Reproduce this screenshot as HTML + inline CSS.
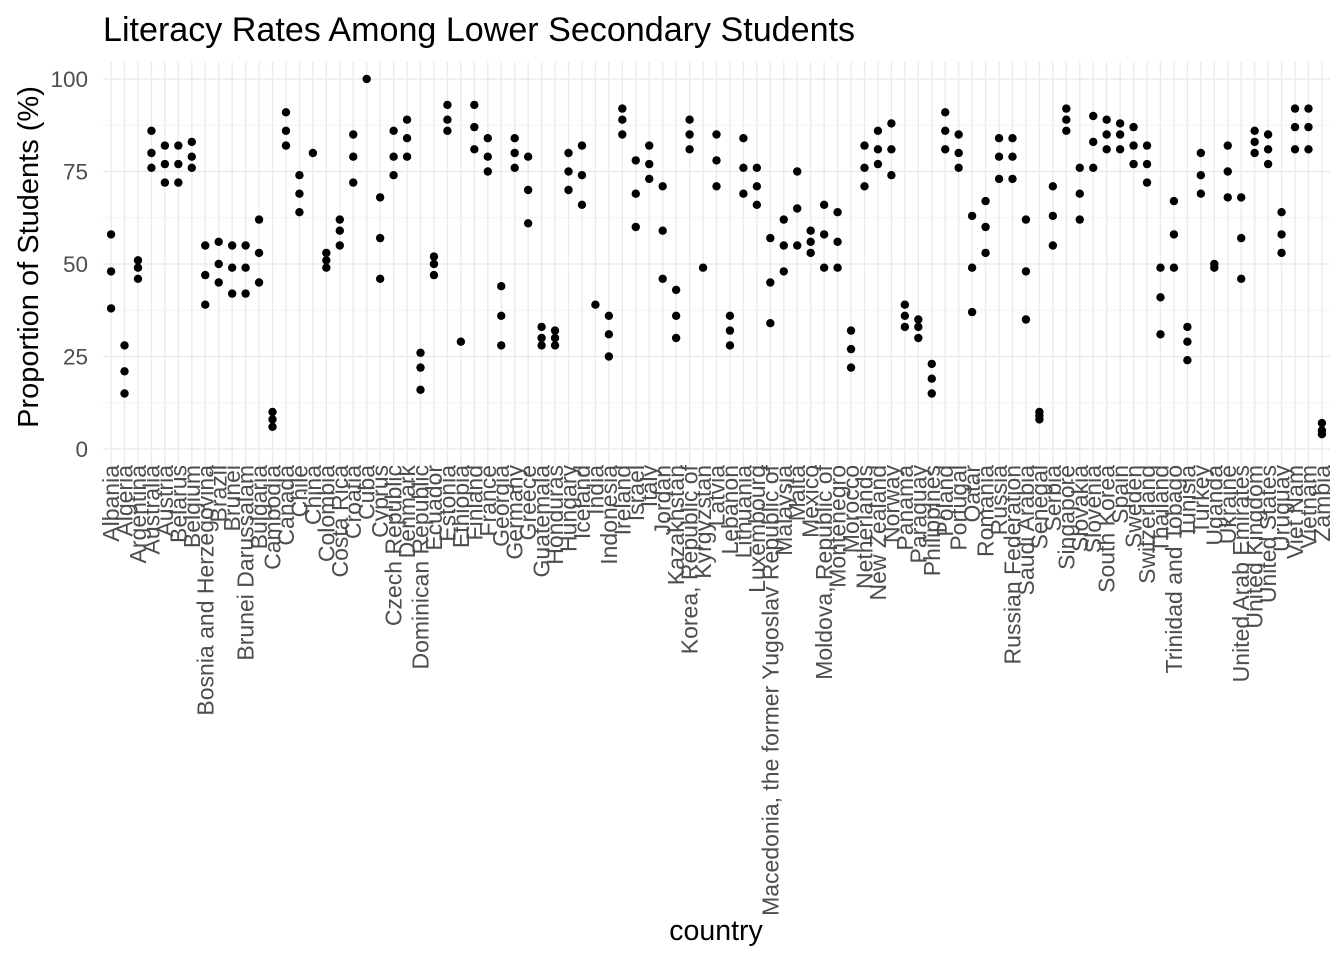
<!DOCTYPE html>
<html><head><meta charset="utf-8"><style>
body{margin:0;background:#fff;}
svg{display:block;font-family:"Liberation Sans",Arial,sans-serif;}
</style></head><body>
<svg id="chart" width="1344" height="960"></svg>
<script>
const countries=["Albania","Algeria","Argentina","Australia","Austria","Belarus","Belgium","Bosnia and Herzegovina","Brazil","Brunei","Brunei Darussalam","Bulgaria","Cambodia","Canada","Chile","China","Colombia","Costa Rica","Croatia","Cuba","Cyprus","Czech Republic","Denmark","Dominican Republic","Ecuador","Estonia","Ethiopia","Finland","France","Georgia","Germany","Greece","Guatemala","Honduras","Hungary","Iceland","India","Indonesia","Ireland","Israel","Italy","Jordan","Kazakhstan","Korea, Republic of","Kyrgyzstan","Latvia","Lebanon","Lithuania","Luxembourg","Macedonia, the former Yugoslav Republic of","Malaysia","Malta","Mexico","Moldova, Republic of","Montenegro","Morocco","Netherlands","New Zealand","Norway","Panama","Paraguay","Philippines","Poland","Portugal","Qatar","Romania","Russia","Russian Federation","Saudi Arabia","Senegal","Serbia","Singapore","Slovakia","Slovenia","South Korea","Spain","Sweden","Switzerland","Thailand","Trinidad and Tobago","Tunisia","Turkey","Uganda","Ukraine","United Arab Emirates","United Kingdom","United States","Uruguay","Viet Nam","Vietnam","Zambia"];
const values=[[58,48,38],[28,21,15],[51,49,46],[86,80,76],[82,77,72],[82,77,72],[83,79,76],[55,47,39],[56,50,45],[55,49,42],[55,49,42],[62,53,45],[10,8,6],[91,86,82],[74,69,64],[80],[53,51,49],[62,59,55],[85,79,72],[100],[68,57,46],[86,79,74],[89,84,79],[26,22,16],[52,50,47],[93,89,86],[29],[93,87,81],[84,79,75],[44,36,28],[84,80,76],[79,70,61],[33,30,28],[32,30,28],[80,75,70],[82,74,66],[39],[36,31,25],[92,89,85],[78,69,60],[82,77,73],[71,59,46],[43,36,30],[89,85,81],[49],[85,78,71],[36,32,28],[84,76,69],[76,71,66],[57,45,34],[62,55,48],[75,65,55],[59,56,53],[66,58,49],[64,56,49],[32,27,22],[82,76,71],[86,81,77],[88,81,74],[39,36,33],[35,33,30],[23,19,15],[91,86,81],[85,80,76],[63,49,37],[67,60,53],[84,79,73],[84,79,73],[62,48,35],[10,9,8],[71,63,55],[92,89,86],[76,69,62],[90,83,76],[89,85,81],[88,85,81],[87,82,77],[82,77,72],[49,41,31],[67,58,49],[33,29,24],[80,74,69],[50,49],[82,75,68],[68,57,46],[86,83,80],[85,81,77],[64,58,53],[92,87,81],[92,87,81],[7,5,4]];
const yTicks=[0,25,50,75,100];
const NS="http://www.w3.org/2000/svg";
const svg=document.getElementById('chart');
const L=103,R=1330,T=62,B=466;
const y=v=>449-v*3.7;
const step=(R-L)/(countries.length-1+1.2);
const x=i=>L+step*(0.6+i);
function mk(t,a,p){const e=document.createElementNS(NS,t);for(const k in a)e.setAttribute(k,a[k]);(p||svg).appendChild(e);return e;}
for(let v=12.5;v<=100;v+=25){const l=mk('line',{x1:L,x2:R,y1:y(v),y2:y(v),stroke:'#f3f3f3','stroke-width':1});

}
yTicks.forEach(v=>{const l=mk('line',{x1:L,x2:R,y1:y(v),y2:y(v),stroke:'#ebebeb','stroke-width':1.4});


const t=mk('text',{x:88,y:y(v)+8,'text-anchor':'end','font-size':22.5,fill:'#4d4d4d'});t.textContent=v;

});
countries.forEach((c,i)=>{const l=mk('line',{x1:x(i),x2:x(i),y1:T,y2:B,stroke:'#ebebeb','stroke-width':1.4});


const t=mk('text',{transform:`translate(${x(i)+8},465) rotate(-90)`,'text-anchor':'end','font-size':23,fill:'#4d4d4d'});t.textContent=c;

});
values.forEach((vs,i)=>vs.forEach(v=>{const d=mk('circle',{cx:x(i),cy:y(v),r:4.2,fill:'#000'});

}));
let t=mk('text',{x:103,y:41,'font-size':34.1,fill:'#000'});t.textContent='Literacy Rates Among Lower Secondary Students';


t=mk('text',{transform:'translate(38,257) rotate(-90)','text-anchor':'middle','font-size':29,fill:'#000'});t.textContent='Proportion of Students (%)';


t=mk('text',{x:716,y:940,'text-anchor':'middle','font-size':28.5,fill:'#000'});t.textContent='country';


</script>
</body></html>
